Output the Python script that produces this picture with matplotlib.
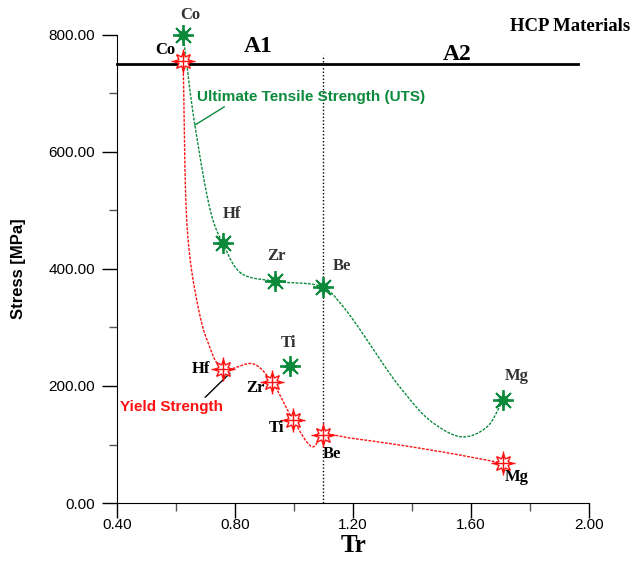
import numpy as np
import matplotlib
matplotlib.use('Agg')
import matplotlib.pyplot as plt
from matplotlib.ticker import FormatStrFormatter

# data
elements = ['Co', 'Hf', 'Zr', 'Ti', 'Be', 'Mg']
tr = [0.624, 0.759, 0.925, 0.997, 1.098, 1.708]
ys = [756, 229, 207, 142, 116, 68]
uts_tr = [0.624, 0.759, 0.936, 0.986, 1.098, 1.708]
uts = [800, 444, 379, 234, 369, 176]

# smooth trend lines as drawn in the picture (knots)
uts_trend_x = [0.624, 0.664, 0.725, 0.759, 0.820, 0.936, 1.098, 1.166,
               1.359, 1.471, 1.573, 1.654, 1.708]
uts_trend_y = [800, 646, 484, 444, 393, 379, 369, 336,
               198, 137, 113, 130, 176]
ys_trend_x = [0.624, 0.641, 0.675, 0.705, 0.759, 0.861, 0.925, 0.997, 1.064,
              1.098, 1.19, 1.359, 1.529, 1.708]
ys_trend_y = [756, 450, 335, 279, 229, 238, 207, 142, 96,
              116, 111, 99, 85, 68]

green = '#0b8a3c'
red = '#ff1010'


def smooth(x, y, sx=295.0, sy=0.585, n=40):
    # centripetal Catmull-Rom through the knots, in screen pixels
    P = np.column_stack([np.asarray(x) * sx, np.asarray(y) * sy])
    P = np.vstack([2 * P[0] - P[1], P, 2 * P[-1] - P[-2]])
    out = []
    for i in range(1, len(P) - 2):
        p0, p1, p2, p3 = P[i - 1], P[i], P[i + 1], P[i + 2]
        t0 = 0.0
        t1 = t0 + np.linalg.norm(p1 - p0) ** 0.5
        t2 = t1 + np.linalg.norm(p2 - p1) ** 0.5
        t3 = t2 + np.linalg.norm(p3 - p2) ** 0.5
        t = np.linspace(t1, t2, n)[:, None]
        a1 = (t1 - t) / (t1 - t0) * p0 + (t - t0) / (t1 - t0) * p1
        a2 = (t2 - t) / (t2 - t1) * p1 + (t - t1) / (t2 - t1) * p2
        a3 = (t3 - t) / (t3 - t2) * p2 + (t - t2) / (t3 - t2) * p3
        b1 = (t2 - t) / (t2 - t0) * a1 + (t - t0) / (t2 - t0) * a2
        b2 = (t3 - t) / (t3 - t1) * a2 + (t - t1) / (t3 - t1) * a3
        out.append((t2 - t) / (t2 - t1) * b1 + (t - t1) / (t2 - t1) * b2)
    c = np.vstack(out)
    return c[:, 0] / sx, c[:, 1] / sy


fig = plt.figure(figsize=(6.32, 5.66), dpi=100)
ax = fig.add_axes([0.1851, 0.1113, 0.7469, 0.8269])
ax.set_xlim(0.4, 2.0)
ax.set_ylim(0, 800)

cx, cy = smooth(uts_trend_x, uts_trend_y)
ax.plot(cx, cy, color=green, lw=1, ls=(0, (2, 1)))
cx, cy = smooth(ys_trend_x, ys_trend_y)
ax.plot(cx, cy, color=red, lw=1, ls=(0, (2, 1)))

# markers
ax.plot(uts_tr, uts, ls='none', marker=(8, 2, 0), ms=15, mew=1.3, color=green, clip_on=False, zorder=5)
ax.plot(uts_tr, uts, ls='none', marker=(8, 1, 0), ms=10, color=green, mec=green, clip_on=False, zorder=5)
ax.plot(tr, ys, ls='none', marker=(8, 1, 0), ms=14, mfc='white', mec=red, mew=1, clip_on=False, zorder=5)
ax.plot(tr, ys, ls='none', marker='+', ms=17, mew=1, color=red, clip_on=False, zorder=6)

# regions A1 / A2
ax.plot([0.4, 1.963], [750, 750], color='black', lw=2, clip_on=False)
ax.plot([1.098, 1.098], [0, 766], color='black', lw=1, ls=(0, (1, 1.5)))
ax.text(0.878, 781, 'A1', fontsize=17, fontweight='bold', family='Liberation Serif', ha='center', va='center')
ax.text(1.553, 767, 'A2', fontsize=17, fontweight='bold', family='Liberation Serif', ha='center', va='center')
ax.text(1.936, 815, 'HCP Materials', fontsize=13.5, fontweight='bold', family='Liberation Serif',
        ha='center', va='center', clip_on=False)

# element labels
uts_lab = {'Co': (0.647, 834), 'Hf': (0.79, 494), 'Zr': (0.939, 422), 'Be': (1.163, 405),
           'Ti': (0.98, 274), 'Mg': (1.756, 217)}
ys_lab = {'Co': (0.563, 774), 'Hf': (0.685, 229), 'Zr': (0.868, 197), 'Ti': (0.942, 128),
          'Be': (1.129, 84), 'Mg': (1.756, 44)}
for e in elements:
    ax.text(*uts_lab[e], e, fontsize=12, color='#333333', family='Liberation Serif', fontweight='bold',
            ha='center', va='center', clip_on=False)
    ax.text(*ys_lab[e], e, fontsize=12, color='black', family='Liberation Serif', fontweight='bold',
            ha='center', va='center', clip_on=False)

ax.annotate('Ultimate Tensile Strength (UTS)', xy=(0.664, 646), xytext=(0.671, 694),
            color=green, fontsize=11, fontweight='bold', family='Liberation Sans', va='center', ha='left',
            arrowprops=dict(arrowstyle='-', color=green, lw=1, shrinkA=0, shrinkB=0, relpos=(0.14, 0)))
ax.annotate('Yield Strength', xy=(0.783, 222), xytext=(0.41, 164),
            color=red, fontsize=11, fontweight='bold', family='Liberation Sans', va='center', ha='left',
            arrowprops=dict(arrowstyle='-', color='black', lw=1, shrinkA=0, shrinkB=0, relpos=(0.8, 1)))

# axes styling
for s in ['top', 'right']:
    ax.spines[s].set_visible(False)
ax.set_xticks(np.arange(0.4, 2.01, 0.4))
ax.set_xticks(np.arange(0.6, 2.0, 0.4), minor=True)
ax.set_yticks(np.arange(0, 801, 200))
ax.set_yticks(np.arange(100, 800, 200), minor=True)
ax.xaxis.set_major_formatter(FormatStrFormatter('%.2f'))
ax.yaxis.set_major_formatter(FormatStrFormatter('%.2f'))
ax.tick_params(which='major', length=11, width=1, labelsize=11)
ax.tick_params(which='minor', length=6, width=1, color='#555555')
ax.tick_params(axis='x', which='major', pad=0)
ax.tick_params(axis='y', which='major', pad=5)
for lab in ax.get_xticklabels() + ax.get_yticklabels():
    lab.set_family('Liberation Sans')

ax.set_xlabel('Tr', fontsize=18, fontweight='bold', family='Liberation Serif', labelpad=1)
ax.set_ylabel('Stress [MPa]', fontsize=12, fontweight='bold', family='Liberation Sans', labelpad=16)

fig.savefig('out.png', dpi=100)
